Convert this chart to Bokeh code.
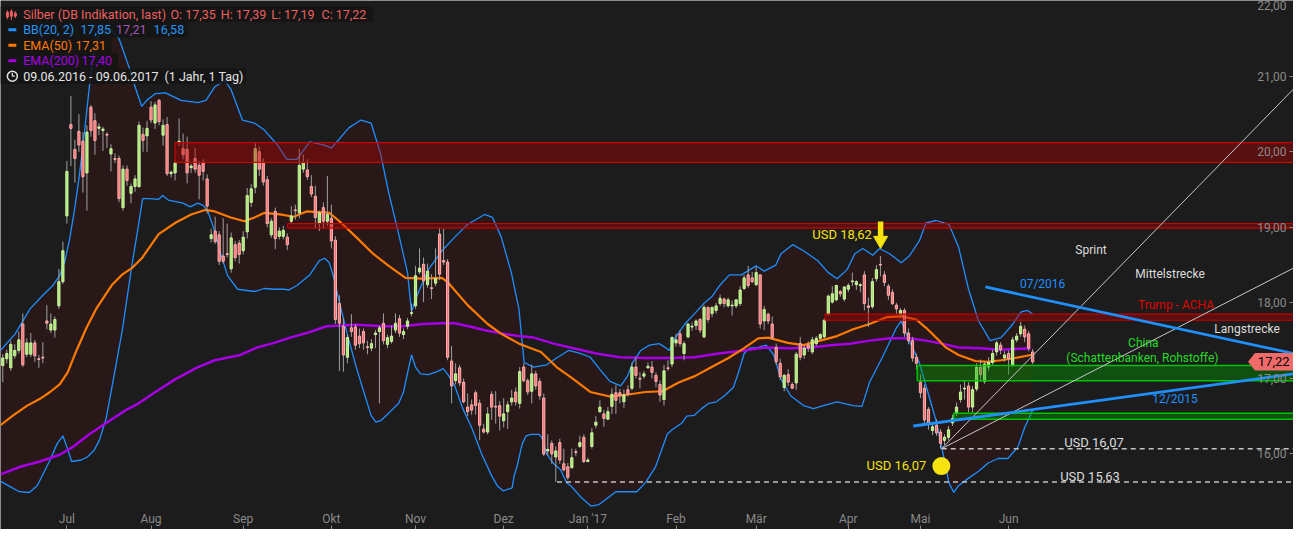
from bokeh.plotting import figure
from bokeh.models import Range1d, FixedTicker, Label, ColumnDataSource
from bokeh.embed import file_html
from bokeh.resources import INLINE

# ---------------- data ----------------
month_ticks = [16, 37, 60, 82, 103, 125, 146, 168, 188, 211, 229, 251]
month_labels = ["Jul", "Aug", "Sep", "Okt", "Nov", "Dez", "Jan '17", "Feb", "Mär", "Apr", "Mai", "Jun"]
price_ticks = [16, 17, 18, 19, 20, 21, 22]
price_labels = ["16,00", "17,00", "18,00", "19,00", "20,00", "21,00", "22,00"]

# daily candles 09.06.2016 - 09.06.2017 (trading-day index 0..257)
opens = [
    17.17, 17.26, 17.14, 17.30, 17.37, 17.72, 17.32, 17.32, 17.47, 17.26,
    17.28, 17.76, 17.64, 17.64, 17.96, 18.28, 19.15, 20.36, 20.03, 20.27,
    20.14, 19.72, 20.59, 20.41, 20.31, 20.28, 20.23, 19.97, 19.91, 19.91,
    19.26, 19.77, 19.45, 19.54, 19.54, 20.23, 20.21, 20.59, 20.38, 20.68,
    20.22, 20.36, 19.71, 19.72, 20.13, 20.04, 20.03, 19.79, 19.91, 19.82,
    19.86, 19.64, 18.85, 18.95, 18.90, 18.62, 18.65, 18.45, 18.77, 18.79,
    18.69, 18.94, 19.33, 19.53, 20.00, 19.86, 19.63, 18.90, 19.21, 18.88,
    18.88, 18.87, 19.08, 19.23, 19.19, 19.77, 19.76, 19.54, 19.41, 19.05,
    19.26, 19.08, 19.12, 18.83, 17.99, 17.69, 17.28, 17.67, 17.68, 17.56,
    17.62, 17.42, 17.40, 17.58, 17.62, 17.73, 17.45, 17.49, 17.64, 17.79,
    17.58, 17.69, 17.86, 17.96, 18.41, 18.51, 18.24, 18.20, 18.26, 18.91,
    18.56, 18.54, 17.23, 16.97, 17.14, 16.95, 16.62, 16.65, 16.81, 16.67,
    16.33, 16.29, 16.79, 16.63, 16.64, 16.44, 16.56, 16.69, 16.82, 16.67,
    17.15, 16.97, 16.83, 17.06, 16.96, 16.74, 16.04, 16.14, 15.96, 16.15,
    15.87, 15.83, 15.82, 16.03, 16.10, 16.22, 15.90, 16.10, 16.38, 16.56,
    16.53, 16.46, 16.63, 16.81, 16.81, 16.69, 16.85, 16.87, 17.15, 17.00,
    17.03, 17.14, 17.15, 17.04, 16.92, 16.72, 17.14, 17.19, 17.47, 17.59,
    17.33, 17.55, 17.68, 17.70, 17.78, 17.55, 17.94, 17.86, 17.90, 17.99,
    18.05, 17.96, 17.96, 17.96, 17.99, 18.19, 18.37, 18.33, 18.24, 18.37,
    17.76, 17.85, 17.72, 17.41, 17.20, 16.88, 17.05, 16.92, 16.94, 17.46,
    17.31, 17.44, 17.35, 17.46, 17.53, 17.55, 17.85, 18.01, 18.04, 18.15,
    18.05, 18.18, 18.28, 18.24, 18.23, 18.37, 17.96, 17.95, 18.32, 18.51,
    18.37, 18.22, 18.14, 17.97, 17.85, 17.90, 17.60, 17.50, 17.28, 16.95,
    16.87, 16.59, 16.31, 16.38, 16.29, 16.18, 16.22, 16.41, 16.55, 16.72,
    16.86, 16.90, 16.62, 16.86, 17.15, 16.96, 17.15, 17.21, 17.35, 17.44,
    17.27, 17.33, 17.18, 17.51, 17.59, 17.65, 17.59, 17.35,
]
highs = [
    17.32, 17.38, 17.50, 17.45, 17.62, 17.86, 17.53, 17.60, 17.51, 17.31,
    17.48, 17.97, 17.86, 17.82, 18.45, 18.81, 19.88, 20.74, 20.16, 20.50,
    20.26, 20.35, 20.62, 20.51, 20.38, 20.33, 20.26, 20.10, 19.98, 19.95,
    19.82, 19.82, 19.58, 19.69, 20.40, 20.32, 20.41, 20.67, 20.66, 20.70,
    20.43, 20.46, 19.75, 19.88, 20.44, 20.24, 20.20, 19.84, 20.05, 19.88,
    19.90, 19.70, 18.98, 19.14, 18.95, 19.12, 19.05, 18.93, 18.82, 18.83,
    18.95, 19.52, 19.57, 20.13, 20.07, 19.91, 19.68, 19.12, 19.26, 19.00,
    19.02, 18.92, 19.28, 19.30, 20.04, 19.96, 19.90, 19.69, 19.55, 19.22,
    19.33, 19.68, 19.30, 18.88, 18.10, 17.80, 17.58, 17.85, 17.72, 17.66,
    17.66, 17.50, 17.52, 17.64, 17.70, 17.86, 17.58, 17.70, 17.86, 17.84,
    17.66, 17.80, 17.99, 18.49, 18.72, 18.60, 18.52, 18.38, 18.72, 19.00,
    18.98, 18.58, 17.43, 17.20, 17.18, 17.00, 16.80, 16.72, 16.84, 16.72,
    16.40, 16.62, 16.83, 16.83, 16.70, 16.74, 16.70, 16.85, 16.88, 17.15,
    17.20, 17.00, 17.18, 17.10, 17.00, 16.80, 16.26, 16.18, 16.10, 16.20,
    16.07, 15.88, 16.07, 16.07, 16.24, 16.26, 15.95, 16.34, 16.50, 16.71,
    16.58, 16.62, 16.87, 16.91, 16.86, 16.85, 16.91, 17.21, 17.29, 17.08,
    17.10, 17.21, 17.23, 17.08, 16.97, 17.18, 17.24, 17.56, 17.59, 17.64,
    17.49, 17.73, 17.74, 17.78, 17.80, 17.97, 17.95, 17.95, 18.00, 18.11,
    18.07, 18.07, 18.03, 18.05, 18.22, 18.37, 18.49, 18.41, 18.48, 18.38,
    17.96, 17.87, 17.82, 17.46, 17.26, 17.06, 17.12, 16.95, 17.35, 17.55,
    17.43, 17.49, 17.55, 17.56, 17.60, 17.79, 18.11, 18.22, 18.24, 18.17,
    18.22, 18.26, 18.40, 18.30, 18.26, 18.42, 18.07, 18.33, 18.50, 18.62,
    18.42, 18.25, 18.18, 18.00, 17.93, 17.93, 17.66, 17.55, 17.33, 17.05,
    16.92, 16.62, 16.40, 16.46, 16.33, 16.26, 16.37, 16.52, 16.68, 16.92,
    16.98, 16.95, 16.90, 17.20, 17.25, 17.22, 17.28, 17.38, 17.50, 17.48,
    17.36, 17.37, 17.55, 17.60, 17.75, 17.70, 17.63, 17.39,
]
lows = [
    16.95, 17.20, 17.10, 17.26, 17.33, 17.15, 17.28, 17.28, 17.22, 17.14,
    17.20, 17.65, 17.60, 17.54, 17.92, 18.25, 19.05, 19.81, 19.59, 20.00,
    19.46, 19.22, 20.20, 19.96, 20.22, 20.01, 20.05, 19.74, 19.85, 19.33,
    19.22, 19.55, 19.32, 19.47, 19.52, 20.00, 20.00, 20.38, 20.30, 20.35,
    20.08, 19.68, 19.66, 19.62, 20.08, 19.90, 19.58, 19.72, 19.72, 19.37,
    19.62, 19.18, 18.80, 18.78, 18.50, 18.52, 18.60, 18.40, 18.55, 18.52,
    18.64, 18.85, 19.27, 19.45, 19.68, 19.55, 19.00, 18.86, 18.71, 18.84,
    18.84, 18.70, 19.04, 19.10, 19.12, 19.72, 19.63, 19.40, 18.99, 18.95,
    18.98, 19.02, 18.72, 17.72, 17.10, 17.09, 17.20, 17.55, 17.38, 17.40,
    17.38, 17.32, 17.36, 17.40, 16.67, 17.45, 17.40, 17.46, 17.60, 17.55,
    17.52, 17.65, 17.82, 17.92, 18.38, 18.01, 18.20, 18.05, 18.22, 18.30,
    18.50, 17.24, 16.67, 16.92, 16.90, 16.67, 16.50, 16.52, 16.52, 16.18,
    16.27, 16.26, 16.45, 16.40, 16.31, 16.35, 16.33, 16.64, 16.64, 16.60,
    16.95, 16.78, 16.67, 16.85, 16.72, 15.97, 15.98, 15.87, 15.63, 15.87,
    15.77, 15.66, 15.80, 15.97, 16.08, 15.88, 15.89, 16.07, 16.34, 16.54,
    16.36, 16.45, 16.53, 16.53, 16.67, 16.61, 16.76, 16.84, 17.00, 16.87,
    17.00, 17.13, 17.00, 16.88, 16.69, 16.64, 17.10, 17.15, 17.42, 17.42,
    17.24, 17.53, 17.63, 17.64, 17.60, 17.53, 17.74, 17.81, 17.86, 17.96,
    17.94, 17.94, 17.83, 17.93, 17.96, 18.17, 18.20, 18.26, 18.22, 17.66,
    17.64, 17.72, 17.51, 17.18, 16.98, 16.83, 16.90, 16.86, 16.85, 17.24,
    17.26, 17.35, 17.32, 17.43, 17.50, 17.53, 17.83, 17.99, 18.02, 18.08,
    18.02, 18.14, 18.22, 18.17, 18.14, 17.90, 17.68, 17.92, 18.28, 18.35,
    18.22, 18.04, 17.97, 17.84, 17.81, 17.55, 17.45, 17.22, 17.12, 16.74,
    16.40, 16.32, 16.25, 16.24, 16.07, 16.12, 16.18, 16.37, 16.50, 16.68,
    16.72, 16.55, 16.55, 16.83, 16.96, 16.93, 17.10, 17.18, 17.30, 17.32,
    17.22, 17.05, 17.15, 17.48, 17.55, 17.48, 17.36, 17.19,
]
closes = [
    17.27, 17.33, 17.45, 17.37, 17.51, 17.18, 17.47, 17.47, 17.30, 17.25,
    17.27, 17.73, 17.72, 17.78, 18.28, 18.69, 19.74, 20.31, 19.91, 20.09,
    19.67, 20.26, 20.28, 20.15, 20.33, 20.30, 20.22, 20.04, 19.90, 19.38,
    19.77, 19.62, 19.54, 19.64, 20.35, 20.15, 20.31, 20.42, 20.62, 20.40,
    20.35, 19.71, 19.73, 19.85, 20.14, 19.96, 19.72, 19.81, 19.77, 19.69,
    19.74, 19.28, 18.90, 18.81, 18.55, 18.55, 18.64, 18.86, 18.60, 18.64,
    18.87, 19.42, 19.51, 20.04, 19.77, 19.60, 19.05, 19.08, 18.85, 18.95,
    18.96, 18.77, 19.15, 19.22, 19.82, 19.86, 19.67, 19.44, 19.13, 19.19,
    19.08, 19.17, 18.82, 17.78, 17.73, 17.31, 17.54, 17.62, 17.44, 17.46,
    17.47, 17.41, 17.46, 17.60, 17.67, 17.50, 17.54, 17.56, 17.73, 17.60,
    17.62, 17.76, 17.87, 18.36, 18.46, 18.29, 18.42, 18.19, 18.32, 18.38,
    18.54, 17.28, 16.90, 17.06, 16.94, 16.69, 16.56, 16.58, 16.64, 16.38,
    16.29, 16.53, 16.62, 16.62, 16.50, 16.53, 16.65, 16.74, 16.69, 17.09,
    16.97, 16.82, 17.06, 16.90, 16.77, 16.00, 16.06, 16.00, 16.04, 15.92,
    15.79, 15.69, 15.95, 16.02, 16.15, 15.90, 15.92, 16.28, 16.42, 16.62,
    16.47, 16.56, 16.79, 16.71, 16.77, 16.78, 16.79, 17.15, 17.04, 16.99,
    17.06, 17.16, 17.08, 16.96, 16.78, 17.10, 17.13, 17.54, 17.51, 17.46,
    17.46, 17.72, 17.69, 17.76, 17.64, 17.94, 17.78, 17.94, 17.96, 18.06,
    17.99, 18.04, 17.97, 18.04, 18.17, 18.33, 18.23, 18.28, 18.40, 17.72,
    17.91, 17.76, 17.54, 17.22, 17.02, 17.04, 16.95, 16.87, 17.32, 17.28,
    17.40, 17.40, 17.51, 17.53, 17.58, 17.77, 18.09, 18.12, 18.23, 18.12,
    18.21, 18.23, 18.29, 18.28, 18.24, 17.99, 17.94, 18.28, 18.44, 18.50,
    18.27, 18.10, 17.99, 17.92, 17.90, 17.60, 17.50, 17.27, 17.20, 16.81,
    16.45, 16.40, 16.36, 16.28, 16.14, 16.22, 16.32, 16.47, 16.62, 16.82,
    16.87, 16.62, 16.85, 17.15, 17.05, 17.19, 17.21, 17.33, 17.47, 17.38,
    17.31, 17.26, 17.51, 17.56, 17.69, 17.55, 17.40, 17.22,
]

# Bollinger bands (20, 2): upper / lower band, read at trading-day positions
bb_upper_x = [-0.6, 3.1, 6.8, 10.0, 12.5, 14.2, 15.5, 16.7, 17.9, 19.1, 20.4, 21.6, 22.8, 24.1, 26.5,
              29.0, 31.5, 33.2, 34.7, 35.9, 38.1, 40.6, 44.5, 48.7, 50.7, 52.9, 55.4, 56.9, 59.8, 62.8,
              65.2, 68.4, 70.9, 73.4, 76.6, 80.0, 82.0, 84.0, 86.4, 89.4, 91.9, 94.3, 96.3, 98.8, 101.0,
              102.0, 103.0, 106.2, 109.6, 112.8, 116.0, 117.7, 120.2, 122.2, 124.4, 126.9, 128.8, 130.1,
              132.5, 135.7, 138.2, 141.2, 144.1, 146.6, 149.0, 151.5, 154.2, 155.9, 157.2, 159.2, 161.4,
              163.8, 165.3, 166.3, 167.8, 170.2, 172.7, 174.9, 176.9, 178.9, 181.3, 184.3, 188.0, 190.0,
              192.9, 194.2, 197.1, 199.8, 203.3, 206.0, 208.2, 210.7, 212.6, 214.6, 217.1, 218.8, 221.3,
              224.2, 226.2, 228.7, 230.4, 232.9, 236.1, 238.5, 241.0, 243.5, 246.4, 249.1, 251.6, 254.1,
              255.8, 257.0]
bb_upper = [17.37, 17.59, 17.92, 18.10, 18.23, 18.36, 18.55, 18.85, 19.23, 19.68, 20.26, 20.86, 21.35, 21.56,
            21.64, 21.50, 21.12, 20.83, 20.60, 20.68, 20.77, 20.78, 20.68, 20.65, 20.68, 20.86, 20.94, 20.83,
            20.42, 20.38, 20.29, 20.10, 19.90, 19.90, 20.13, 20.09, 20.05, 20.17, 20.32, 20.42, 20.38, 19.97,
            19.46, 18.91, 18.40, 17.88, 18.05, 18.44, 18.69, 18.87, 19.04, 19.09, 19.17, 19.13, 18.87, 18.40,
            17.92, 17.21, 17.15, 17.18, 17.27, 17.37, 17.33, 17.28, 17.12, 16.96, 16.90, 17.03, 17.21, 17.37,
            17.44, 17.46, 17.41, 17.37, 17.54, 17.72, 17.86, 17.99, 18.08, 18.23, 18.37, 18.37, 18.49, 18.42,
            18.50, 18.65, 18.77, 18.69, 18.56, 18.40, 18.32, 18.44, 18.65, 18.72, 18.63, 18.72, 18.65, 18.53,
            18.62, 18.82, 19.06, 19.09, 19.04, 18.74, 18.18, 17.76, 17.50, 17.54, 17.69, 17.88, 17.90, 17.85]
bb_lower_x = [-0.6, 1.4, 4.1, 6.6, 8.6, 11.8, 13.5, 15.0, 16.0, 17.2, 19.6, 21.1, 22.8, 24.1, 25.8, 27.3,
              29.8, 32.2, 33.9, 34.9, 36.4, 38.9, 39.9, 41.3, 45.0, 46.8, 48.7, 50.0, 51.2, 52.9, 54.4,
              56.1, 58.6, 62.8, 65.2, 67.7, 70.2, 71.4, 73.4, 76.6, 79.0, 80.3, 81.5, 82.7, 84.0, 86.2,
              88.2, 90.1, 91.9, 93.1, 94.3, 96.3, 98.8, 100.0, 101.2, 102.0, 103.0, 104.2, 106.2, 108.4,
              109.9, 111.1, 112.8, 114.8, 117.0, 119.5, 122.0, 123.4, 124.9, 127.1, 127.6, 128.3, 129.6,
              130.6, 131.8, 133.8, 134.5, 135.7, 137.5, 139.2, 140.7, 141.7, 144.4, 146.8, 148.8, 153.0,
              158.2, 160.4, 162.9, 165.8, 167.0, 169.5, 170.7, 172.5, 174.4, 176.2, 178.1, 180.1, 182.3,
              183.6, 185.0, 186.3, 188.5, 190.5, 192.4, 194.2, 196.6, 199.8, 202.3, 204.8, 208.2, 212.2,
              214.4, 216.3, 219.5, 223.0, 224.2, 226.2, 228.7, 231.1, 232.9, 234.3, 236.1, 237.3, 238.5,
              241.0, 243.5, 245.9, 248.4, 250.8, 253.3, 255.0, 257.0]
bb_lower = [15.64, 15.58, 15.50, 15.49, 15.58, 15.92, 16.13, 16.24, 16.09, 15.90, 15.92, 15.96, 16.05, 16.18,
            16.47, 16.90, 17.63, 18.49, 19.04, 19.38, 19.38, 19.37, 19.42, 19.36, 19.32, 19.27, 19.32, 19.29,
            19.21, 18.95, 18.65, 18.36, 18.18, 18.15, 18.19, 18.18, 18.18, 18.17, 18.23, 18.37, 18.56, 18.59,
            18.53, 18.31, 18.01, 17.54, 17.15, 16.82, 16.51, 16.42, 16.44, 16.54, 16.67, 16.82, 17.12, 17.31,
            17.15, 17.06, 17.05, 17.09, 17.13, 17.05, 16.90, 16.60, 16.35, 16.00, 15.71, 15.58, 15.51, 15.55,
            15.71, 15.83, 16.13, 16.24, 16.26, 16.26, 16.22, 16.00, 15.87, 15.79, 15.62, 15.58, 15.42, 15.31,
            15.33, 15.50, 15.50, 15.62, 15.83, 16.26, 16.32, 16.41, 16.50, 16.51, 16.60, 16.67, 16.69, 16.77,
            16.88, 17.08, 17.33, 17.40, 17.41, 17.44, 17.31, 16.99, 16.77, 16.64, 16.60, 16.64, 16.69, 16.64,
            16.63, 16.95, 17.28, 17.67, 17.76, 17.50, 17.21, 16.77, 16.44, 16.09, 15.62, 15.49, 15.58, 15.68,
            15.77, 15.88, 15.94, 15.94, 16.09, 16.35, 16.58]

ema50_x = [-0.6, 2.6, 6.1, 9.3, 11.8, 14.2, 16.2, 18.4, 20.9, 23.3, 27.3, 29.7, 32.2, 34.7, 38.9, 43.1, 47.0,
           50.5, 52.9, 56.9, 60.3, 62.8, 65.2, 69.2, 72.6, 75.8, 81.5, 84.0, 88.2, 92.4, 96.3, 100.5, 104.7,
           109.6, 111.1, 116.0, 121.0, 124.4, 128.8, 130.8, 134.3, 138.2, 142.4, 146.6, 151.5, 156.5, 160.4,
           164.6, 168.8, 172.7, 176.9, 181.1, 185.0, 188.5, 191.0, 195.9, 199.8, 204.0, 208.2, 212.2, 216.3,
           220.5, 224.5, 227.9, 230.4, 232.9, 235.3, 238.5, 242.7, 245.9, 249.1, 252.6, 256.5, 257.0]
ema50 = [16.38, 16.51, 16.64, 16.73, 16.82, 16.92, 17.08, 17.37, 17.67, 17.92, 18.24, 18.37, 18.46, 18.59,
         18.91, 19.06, 19.17, 19.23, 19.21, 19.13, 19.08, 19.13, 19.19, 19.17, 19.14, 19.21, 19.19, 19.08,
         18.87, 18.65, 18.49, 18.33, 18.32, 18.33, 18.27, 17.97, 17.72, 17.59, 17.46, 17.42, 17.35, 17.15,
         16.99, 16.82, 16.76, 16.79, 16.82, 16.83, 16.95, 17.03, 17.15, 17.27, 17.40, 17.53, 17.54, 17.47,
         17.44, 17.50, 17.56, 17.65, 17.72, 17.81, 17.82, 17.78, 17.67, 17.54, 17.41, 17.31, 17.23, 17.22,
         17.24, 17.27, 17.31, 17.31]

ema200_x = [-0.6, 4.4, 9.3, 14.2, 17.4, 21.6, 25.8, 30.7, 33.9, 38.1, 43.1, 48.7, 52.9, 59.3, 63.5, 67.7,
            71.7, 75.8, 80.8, 88.2, 94.8, 99.8, 104.7, 109.6, 112.8, 117.0, 120.9, 125.1, 128.8, 132.5, 137.5,
            142.4, 148.1, 154.0, 160.4, 167.0, 172.7, 178.6, 185.0, 189.9, 196.6, 201.6, 206.5, 211.4, 216.3,
            221.3, 226.2, 230.4, 234.3, 238.5, 244.2, 249.1, 256.5]
ema200 = [15.73, 15.83, 15.90, 15.99, 16.09, 16.26, 16.41, 16.58, 16.67, 16.82, 16.99, 17.15, 17.24, 17.31,
          17.41, 17.47, 17.54, 17.60, 17.69, 17.71, 17.69, 17.69, 17.72, 17.73, 17.73, 17.68, 17.63, 17.59,
          17.56, 17.54, 17.46, 17.40, 17.33, 17.28, 17.27, 17.27, 17.28, 17.33, 17.37, 17.41, 17.40, 17.41,
          17.44, 17.46, 17.50, 17.53, 17.53, 17.50, 17.46, 17.41, 17.40, 17.38, 17.40]

# horizontal zones (start index, bottom price, top price)
red_zone_left = [43.0, 71.1, 205.2]
red_zone_bottom = [19.86, 18.99, 17.77]
red_zone_top = [20.12, 19.05, 17.85]
green_zone_left = [228.2, 237.3]
green_zone_bottom = [16.97, 16.46]
green_zone_top = [17.17, 16.54]

# trend lines (index, price)
trend_0716_x = [245.2, 322.1]
trend_0716_y = [18.21, 17.33]
trend_1215_x = [227.2, 322.1]
trend_1215_y = [16.37, 17.06]
fan_x = [234.3, 322.1]
fan_sprint_y = [16.07, 20.83]
fan_mittel_y = [16.07, 18.46]
level_x0 = [234.3, 138.3]
level_y = [16.07, 15.63]

# ---------------- layout helpers (reference pixel -> data) ----------------
def ix(px):
    return (px - 2.3) / 4.057


def py(px):
    return 20.0 - (px - 155.0) / 78.0


BG = "#1c1c1c"
FONT = "Roboto"

p = figure(width=1293, height=529, output_backend="svg", toolbar_location=None,
           x_range=Range1d(ix(0), ix(1309)), y_range=Range1d(py(545), 22.002),
           x_axis_location="above", y_axis_location="left", min_border=0,
           background_fill_color=BG, border_fill_color=BG, outline_line_color=None)
p.xgrid.visible = False
p.ygrid.visible = False

xa = p.xaxis[0]
xa.ticker = FixedTicker(ticks=month_ticks)
xa.major_label_overrides = {float(t): l for t, l in zip(month_ticks, month_labels)}
xa.fixed_location = py(545)
xa.axis_line_color = None
xa.major_tick_out = 4
xa.major_tick_in = 0
xa.major_tick_line_color = "#8a8a8a"
xa.minor_tick_line_color = None
xa.major_label_standoff = 0
xa.major_label_text_color = "#8a8a8a"
xa.major_label_text_font = FONT
xa.major_label_text_font_size = "12px"

ya = p.yaxis[0]
ya.ticker = FixedTicker(ticks=price_ticks)
ya.major_label_overrides = {float(t): l for t, l in zip(price_ticks, price_labels)}
ya.fixed_location = ix(1309)
ya.axis_line_color = None
ya.major_tick_out = 4
ya.major_tick_in = 0
ya.major_tick_line_color = "#8a8a8a"
ya.minor_tick_line_color = None
ya.major_label_standoff = 3
ya.major_label_text_color = "#8a8a8a"
ya.major_label_text_font = FONT
ya.major_label_text_font_size = "12px"

# Bollinger fill + lines, EMAs
p.patch(bb_upper_x + bb_lower_x[::-1], bb_upper + bb_lower[::-1],
        fill_color="#7a0000", fill_alpha=0.13, line_color=None)
p.line(bb_upper_x, bb_upper, line_color="#1e8fff", line_width=1.3)
p.line(bb_lower_x, bb_lower, line_color="#1e8fff", line_width=1.3)
p.line(ema200_x, ema200, line_color="#a800e6", line_width=2.5)
p.line(ema50_x, ema50, line_color="#ff7a00", line_width=2.2)

# candles
days = list(range(len(closes)))
up = [c >= o for o, c in zip(opens, closes)]
src = ColumnDataSource(dict(
    x=days, high=highs, low=lows,
    top=[max(o, c) for o, c in zip(opens, closes)],
    bottom=[min(o, c) for o, c in zip(opens, closes)],
    fill=["#a9e872" if u else "#f77272" for u in up],
    line=["#cdf7a4" if u else "#ffb0b0" for u in up],
))
p.segment(x0="x", y0="high", x1="x", y1="low", source=src, line_color="#a0a0a0", line_width=1)
p.vbar(x="x", width=0.55, top="top", bottom="bottom", fill_color="fill", line_color="line",
       line_width=1, source=src)

# zones
p.quad(left=red_zone_left, right=[ix(1320)] * len(red_zone_left), bottom=red_zone_bottom, top=red_zone_top,
       fill_color="#b40000", fill_alpha=0.4, line_color="#c80000", line_width=1.2)
p.quad(left=green_zone_left, right=[ix(1320)] * len(green_zone_left), bottom=green_zone_bottom,
       top=green_zone_top, fill_color="#00a000", fill_alpha=0.4, line_color="#00c400", line_width=1.5)

# trend lines
p.line(fan_x, fan_sprint_y, line_color="#c8c8c8", line_width=1)
p.line(fan_x, fan_mittel_y, line_color="#c8c8c8", line_width=1)
p.line(trend_0716_x, trend_0716_y, line_color="#1e90ff", line_width=2.8)
p.line(trend_1215_x, trend_1215_y, line_color="#1e90ff", line_width=2.8)
p.segment(x0=level_x0, y0=level_y, x1=[ix(1320)] * 2, y1=level_y,
          line_color="#c4c4c4", line_width=1.5, line_dash="5 4")

# yellow marks
YEL = "#f6e20c"
p.segment(x0=[ix(891)], y0=[py(227)], x1=[ix(891)], y1=[py(243)], line_color=YEL, line_width=5.5)
p.scatter([ix(891)], [py(246.5)], marker="inverted_triangle", size=14, fill_color=YEL, line_color=YEL)
p.scatter([ix(952.5)], [py(479.5)], marker="circle", size=18, fill_color=YEL, line_color=None)

# price tag
tag_y = closes[-1]
p.patch([ix(1263), ix(1270), ix(1312), ix(1312), ix(1270)],
        [tag_y, tag_y + 9 / 78, tag_y + 9 / 78, tag_y - 9 / 78, tag_y - 9 / 78],
        fill_color="#f26b6b", line_color=None)
p.add_layout(Label(x=ix(1289), y=tag_y, text=f"{tag_y:.2f}".replace(".", ","), text_color="#000000",
                   text_font=FONT, text_font_size="13px", text_align="center", text_baseline="middle"))

# annotation texts
ann = [
    ("USD 18,62", 852, 240, YEL, "13px"),
    ("USD 16,07", 907, 479, YEL, "13px"),
    ("Sprint", 1104, 256, "#dcdcdc", "12px"),
    ("Mittelstrecke", 1184, 281, "#dcdcdc", "12px"),
    ("07/2016", 1055, 292, "#1e90ff", "12px"),
    ("Trump - ACHA", 1190, 313, "#e00000", "12px"),
    ("Langstrecke", 1262, 338, "#dcdcdc", "12px"),
    ("China", 1157, 352, "#22dd22", "12px"),
    ("(Schattenbanken, Rohstoffe)", 1156, 368, "#22dd22", "12px"),
    ("12/2015", 1189, 410, "#1e90ff", "12px"),
    ("USD 16,07", 1107, 455, "#dcdcdc", "13px"),
    ("USD 15,63", 1103, 490, "#dcdcdc", "13px"),
]
for t, x, y, c, s in ann:
    p.add_layout(Label(x=ix(x), y=py(y), text=t, text_color=c, text_font=FONT, text_font_size=s,
                       text_align="center", text_baseline="middle"))

# legend boxes
box_right = [377, 190, 112, 119, 248]
box_top = [5, 21, 37, 53, 69]
p.quad(left=[ix(0)] * 5, right=[ix(r) for r in box_right], top=[py(t) for t in box_top],
       bottom=[py(t + 16) for t in box_top], fill_color="#141414", fill_alpha=0.85, line_color=None)

SAL = "#ec6060"
# candle icon
p.segment(x0=[ix(7), ix(11), ix(15)], y0=[py(9), py(8), py(10)], x1=[ix(7), ix(11), ix(15)],
          y1=[py(18), py(19), py(17)], line_color=SAL, line_width=1)
p.quad(left=[ix(6), ix(10), ix(14)], right=[ix(8), ix(12), ix(16)], top=[py(11), py(10), py(12)],
       bottom=[py(16), py(15), py(15)], fill_color=SAL, line_color=SAL)
# dash icons
p.segment(x0=[ix(8)] * 3, y0=[py(29), py(45), py(61)], x1=[ix(16)] * 3, y1=[py(29), py(45), py(61)],
          line_color=["#1e90ff", "#ff7a00", "#a800e6"], line_width=3)
# clock icon
p.scatter([ix(12)], [py(77)], marker="circle", size=10, fill_color=None, line_color="#e6e6e6", line_width=1.5)
p.segment(x0=[ix(12), ix(12)], y0=[py(77), py(77)], x1=[ix(12), ix(14.5)], y1=[py(73.5), py(77)],
          line_color="#e6e6e6", line_width=1.2)

legend = [
    ("Silber (DB Indikation, last)", 23, 13, SAL),
    ("O: 17,35", 172, 13, SAL),
    ("H: 17,39", 223, 13, SAL),
    ("L: 17,19", 274, 13, SAL),
    ("C: 17,22", 325, 13, SAL),
    ("BB(20, 2)", 23, 29, "#2196f3"),
    ("17,85", 81, 29, "#2196f3"),
    ("17,21", 117, 29, "#a556b5"),
    ("16,58", 155, 29, "#2196f3"),
    ("EMA(50)", 23, 45, "#ff7a00"),
    ("17,31", 76, 45, "#ff7a00"),
    ("EMA(200)", 23, 61, "#a800e6"),
    ("17,40", 82, 61, "#a800e6"),
    ("09.06.2016 - 09.06.2017", 23, 77, "#e6e6e6"),
    ("(1 Jahr, 1 Tag)", 166, 77, "#e6e6e6"),
]
for t, x, y, c in legend:
    p.add_layout(Label(x=ix(x), y=py(y), text=t, text_color=c, text_font=FONT, text_font_size="12.5px",
                       text_align="left", text_baseline="middle"))

open("out.html", "w").write(file_html(p, INLINE))
